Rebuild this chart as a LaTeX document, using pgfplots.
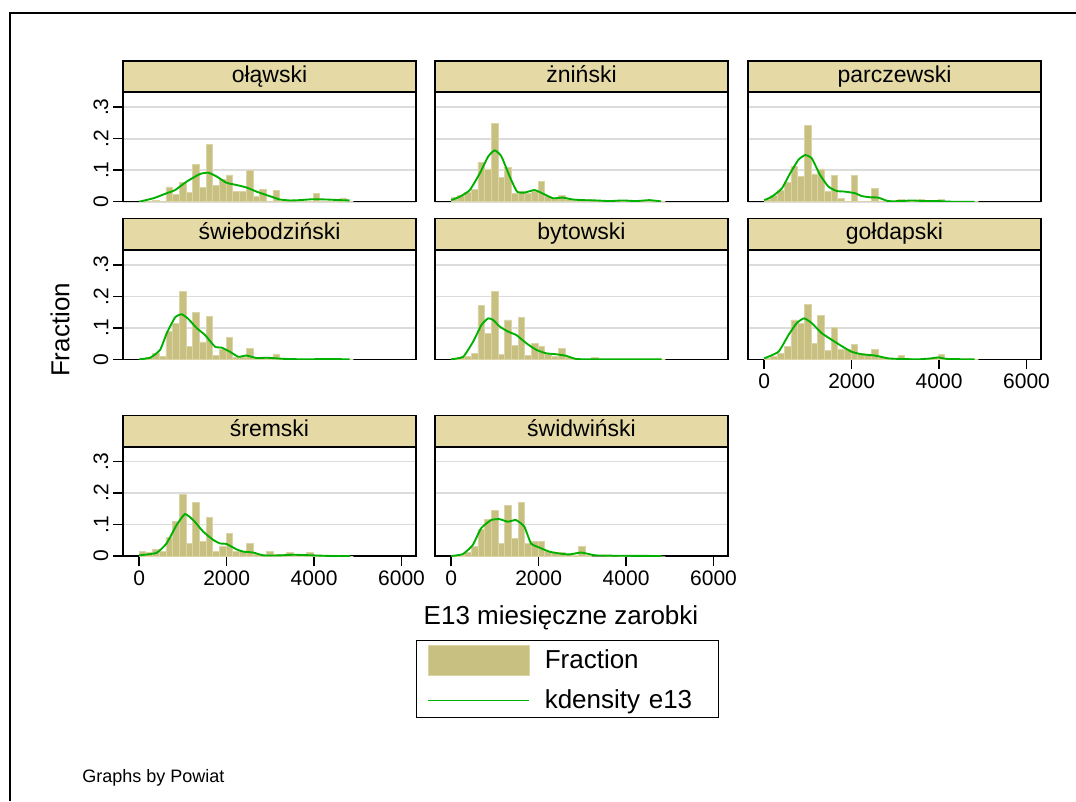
\documentclass[border=0pt]{standalone}
\usepackage{fontspec}
\setmainfont{Liberation Sans}
\usepackage{pgfplots}
\pgfplotsset{compat=1.18}
\definecolor{barfill}{RGB}{200,192,128}
\definecolor{baredge}{RGB}{218,212,166}
\definecolor{hdr}{RGB}{229,218,166}
\definecolor{kd}{RGB}{0,176,0}
\definecolor{gridc}{RGB}{220,220,220}
\pgfplotsset{
 panel/.style={
   scale only axis, width=219.75pt, height=81.75pt,
   xmin=-370, xmax=6330, ymin=0, ymax=0.346,
   axis line style={line width=1.1pt, black},
   ytick={0,0.1,0.2,0.3}, yticklabels={0,.1,.2,.3},
   ymajorgrids, major grid style={gridc, line width=1.2pt},
   tick align=outside, major tick length=7.5pt,
   tick style={black, line width=1.1pt},
   ytick pos=left, xtick pos=bottom,
   title style={at={(0.5,1)}, anchor=south, yshift=-6pt, fill=hdr, draw=black,
     line width=1.1pt, minimum width=219.75pt, minimum height=23.25pt, inner sep=0pt,
     text height=0.84em, text depth=0pt, font=\fontsize{17.25pt}{20pt}\selectfont},
   ticklabel style={font=\fontsize{15.75pt}{18pt}\selectfont},
   yticklabel style={rotate=90, anchor=south},
   /pgf/number format/assume math mode=true,
 },
 noy/.style={yticklabels={}, ytick style={draw=none}},
 nox/.style={xtick=\empty},
 withx/.style={xtick={0,2000,4000,6000}, xticklabels={0,2000,4000,6000}},
 hist/.style={ybar interval, fill=barfill, draw=baredge, line width=0.6pt, forget plot},
 kden/.style={kd, line width=1.4pt, smooth, tension=0.3, no markers, forget plot},
}
\begin{document}
\begin{tikzpicture}
\useasboundingbox (0pt,0pt) rectangle (807pt,-600.75pt);
\draw[line width=1.5pt] (7.125pt,-601pt) -- (7.125pt,-9.75pt) -- (808pt,-9.75pt);

% row 1
\begin{axis}[panel, nox, at={(92.25pt,-151.275pt)}, anchor=south west, title={ołąwski}]
\addplot[hist] coordinates {(0,0) (153,0) (306,0.004) (459,0) (612,0.047) (765,0.024) (918,0.06) (1071,0.03) (1224,0.117) (1377,0.046) (1530,0.183) (1683,0.053) (1836,0.072) (1989,0.085) (2142,0.032) (2295,0.032) (2448,0.099) (2601,0.016) (2754,0.04) (2907,0) (3060,0.035) (3213,0) (3366,0) (3519,0) (3672,0) (3825,0) (3978,0.027) (4131,0) (4284,0) (4437,0) (4590,0.012) (4743,0) (4896,0)};
\addplot[kden] coordinates {(0,0) (327,0.011) (631,0.027) (821,0.037) (1087,0.064) (1392,0.088) (1582,0.092) (1772,0.08) (2000,0.06) (2228,0.053) (2456,0.045) (2684,0.032) (2913,0.021) (3065,0.014) (3217,0.007) (3445,0.004) (3673,0.005) (3977,0.008) (4281,0.007) (4586,0.005) (4814,0.004)};
\end{axis}

\begin{axis}[panel, nox, noy, at={(326.25pt,-151.275pt)}, anchor=south west, title={żniński}]
\addplot[hist] coordinates {(0,0.014) (153,0.02) (306,0.03) (459,0.04) (612,0.125) (765,0.104) (918,0.247) (1071,0.076) (1224,0.109) (1377,0.027) (1530,0.034) (1683,0.027) (1836,0.032) (1989,0.064) (2142,0.016) (2295,0.011) (2448,0.02) (2601,0.008) (2754,0.004) (2907,0.003) (3060,0.006) (3213,0.003) (3366,0.005) (3519,0.005) (3672,0.003) (3825,0.004) (3978,0.002) (4131,0) (4284,0.005) (4437,0) (4590,0) (4743,0) (4896,0)};
\addplot[kden] coordinates {(0,0.005) (198,0.016) (426,0.037) (654,0.09) (844,0.143) (996,0.163) (1148,0.144) (1338,0.08) (1506,0.032) (1681,0.029) (1909,0.037) (2137,0.023) (2327,0.011) (2555,0.013) (2783,0.007) (3011,0.005) (3315,0.004) (3620,0.002) (3924,0.004) (4228,0.002) (4532,0.005) (4798,0.001)};
\end{axis}

\begin{axis}[panel, nox, noy, at={(561pt,-151.275pt)}, anchor=south west, title={parczewski}]
\addplot[hist] coordinates {(0,0.007) (153,0.021) (306,0.035) (459,0.06) (612,0.113) (765,0.08) (918,0.242) (1071,0.088) (1224,0.104) (1377,0.032) (1530,0.082) (1683,0.011) (1836,0) (1989,0.082) (2142,0) (2295,0) (2448,0.042) (2601,0) (2754,0) (2907,0) (3060,0.008) (3213,0) (3366,0) (3519,0.008) (3672,0) (3825,0) (3978,0.008) (4131,0) (4284,0) (4437,0) (4590,0) (4743,0) (4896,0)};
\addplot[kden] coordinates {(0,0.005) (175,0.016) (403,0.042) (593,0.09) (783,0.133) (935,0.148) (1087,0.138) (1278,0.085) (1468,0.048) (1658,0.034) (1848,0.032) (2076,0.027) (2228,0.018) (2418,0.014) (2608,0.013) (2836,0.002) (3141,0.002) (3369,0.004) (3673,0.002) (3977,0.002) (4281,0) (4814,0)};
\end{axis}

% row 2
\begin{axis}[panel, nox, at={(92.25pt,-269.475pt)}, anchor=south west, title={świebodziński}]
\addplot[hist] coordinates {(0,0) (153,0.005) (306,0.02) (459,0.01) (612,0.09) (765,0.115) (918,0.215) (1071,0.04) (1224,0.148) (1377,0.055) (1530,0.135) (1683,0.012) (1836,0.03) (1989,0.07) (2142,0.005) (2295,0.005) (2448,0.035) (2601,0.003) (2754,0.005) (2907,0.003) (3060,0.017) (3213,0.003) (3366,0) (3519,0) (3672,0) (3825,0) (3978,0) (4131,0) (4284,0) (4437,0.003) (4590,0) (4743,0) (4896,0)};
\addplot[kden] coordinates {(0,0) (251,0.005) (479,0.03) (631,0.083) (821,0.133) (973,0.143) (1125,0.128) (1316,0.099) (1506,0.077) (1734,0.04) (1886,0.037) (2076,0.024) (2266,0.008) (2456,0.012) (2684,0.004) (2913,0.005) (3141,0.003) (3369,0.001) (3825,0) (4281,0.001) (4814,0)};
\end{axis}

\begin{axis}[panel, nox, noy, at={(326.25pt,-269.475pt)}, anchor=south west, title={bytowski}]
\addplot[hist] coordinates {(0,0.003) (153,0.005) (306,0.01) (459,0.02) (612,0.17) (765,0.083) (918,0.215) (1071,0.015) (1224,0.125) (1377,0.045) (1530,0.133) (1683,0.012) (1836,0.05) (1989,0.04) (2142,0.015) (2295,0.01) (2448,0.035) (2601,0.005) (2754,0.003) (2907,0) (3060,0) (3213,0.005) (3366,0) (3519,0) (3672,0) (3825,0) (3978,0) (4131,0) (4284,0) (4437,0) (4590,0) (4743,0) (4896,0)};
\addplot[kden] coordinates {(0,0) (274,0.008) (502,0.056) (692,0.109) (844,0.13) (958,0.125) (1110,0.104) (1300,0.088) (1490,0.077) (1719,0.051) (1947,0.03) (2175,0.019) (2403,0.016) (2631,0.011) (2859,0.001) (3300,0) (4814,0)};
\end{axis}

\begin{axis}[panel, withx, noy, at={(561pt,-269.475pt)}, anchor=south west, title={gołdapski}]
\addplot[hist] coordinates {(0,0.003) (153,0.01) (306,0.02) (459,0.04) (612,0.125) (765,0.115) (918,0.175) (1071,0.051) (1224,0.138) (1377,0.027) (1530,0.1) (1683,0.03) (1836,0.03) (1989,0.046) (2142,0.02) (2295,0.015) (2448,0.032) (2601,0.005) (2754,0.003) (2907,0.003) (3060,0.012) (3213,0.003) (3366,0) (3519,0) (3672,0.003) (3825,0.005) (3978,0.016) (4131,0) (4284,0) (4437,0) (4590,0) (4743,0) (4896,0)};
\addplot[kden] coordinates {(0,0.003) (327,0.024) (555,0.077) (745,0.115) (912,0.13) (1087,0.115) (1316,0.083) (1544,0.062) (1772,0.042) (2000,0.024) (2228,0.016) (2532,0.012) (2836,0.003) (3141,0.001) (3520,0) (3825,0.003) (3977,0.006) (4205,0.001) (4814,0)};
\end{axis}

% row 3
\begin{axis}[panel, withx, at={(92.25pt,-417pt)}, anchor=south west, title={śremski},
  legend style={at={(1.0,-0.771)}, anchor=north west, draw=black, line width=0.9pt,
    font=\fontsize{19.5pt}{22pt}\selectfont, inner xsep=8pt, inner ysep=3pt, row sep=9pt,
    /tikz/every odd column/.append style={column sep=9pt},
    /tikz/every even column/.append style={text width=120pt}},
  legend cell align=left]
\addplot[hist] coordinates {(0,0.015) (153,0.01) (306,0.02) (459,0.015) (612,0.06) (765,0.11) (918,0.195) (1071,0.04) (1224,0.17) (1377,0.045) (1530,0.123) (1683,0.015) (1836,0.03) (1989,0.072) (2142,0.015) (2295,0.015) (2448,0.04) (2601,0.005) (2754,0.005) (2907,0.015) (3060,0.005) (3213,0.005) (3366,0.01) (3519,0.003) (3672,0.003) (3825,0.01) (3978,0.003) (4131,0) (4284,0) (4437,0) (4590,0) (4743,0) (4896,0)};
\addplot[kden] coordinates {(0,0.002) (397,0.01) (626,0.04) (855,0.098) (1046,0.133) (1237,0.114) (1466,0.077) (1695,0.051) (1847,0.04) (2000,0.038) (2229,0.021) (2382,0.014) (2611,0.011) (2840,0.002) (3221,0.002) (3527,0.004) (3985,0.002) (4400,0) (4824,0)};
\addlegendimage{legend image code/.code={\draw[fill=barfill, draw=baredge, line width=0.6pt] (0pt,-11.25pt) rectangle (75.75pt,11.25pt);}}
\addlegendentry{Fraction}
\addlegendimage{legend image code/.code={\draw[kd, line width=1.4pt] (0pt,0pt) -- (75.75pt,0pt);}}
\addlegendentry{kdensity e13}
\end{axis}

\begin{axis}[panel, withx, noy, at={(326.25pt,-417pt)}, anchor=south west, title={świdwiński}]
\addplot[hist] coordinates {(0,0.002) (153,0.002) (306,0.01) (459,0.03) (612,0.085) (765,0.115) (918,0.145) (1071,0.04) (1224,0.16) (1377,0.055) (1530,0.17) (1683,0.04) (1836,0.045) (1989,0.045) (2142,0.015) (2295,0.01) (2448,0.01) (2601,0.005) (2754,0.003) (2907,0.03) (3060,0.003) (3213,0) (3366,0) (3519,0.003) (3672,0) (3825,0.003) (3978,0) (4131,0) (4284,0) (4437,0) (4590,0) (4743,0) (4896,0)};
\addplot[kden] coordinates {(0,0) (266,0.006) (494,0.035) (684,0.088) (913,0.114) (1103,0.117) (1293,0.109) (1483,0.114) (1673,0.093) (1825,0.04) (2015,0.027) (2243,0.014) (2471,0.008) (2700,0.005) (2966,0.011) (3156,0.006) (3308,0.002) (3700,0.001) (4814,0)};
\end{axis}

\node[rotate=90, font=\fontsize{19.5pt}{22pt}\selectfont] at (45pt,-247.5pt) {Fraction};
\node[font=\fontsize{19.5pt}{22pt}\selectfont] at (420.75pt,-463.5pt) {E13 miesięczne zarobki};
\node[anchor=west, font=\fontsize{13.5pt}{16pt}\selectfont, inner sep=0pt] at (61.5pt,-583.5pt) {Graphs by Powiat};
\end{tikzpicture}
\end{document}
